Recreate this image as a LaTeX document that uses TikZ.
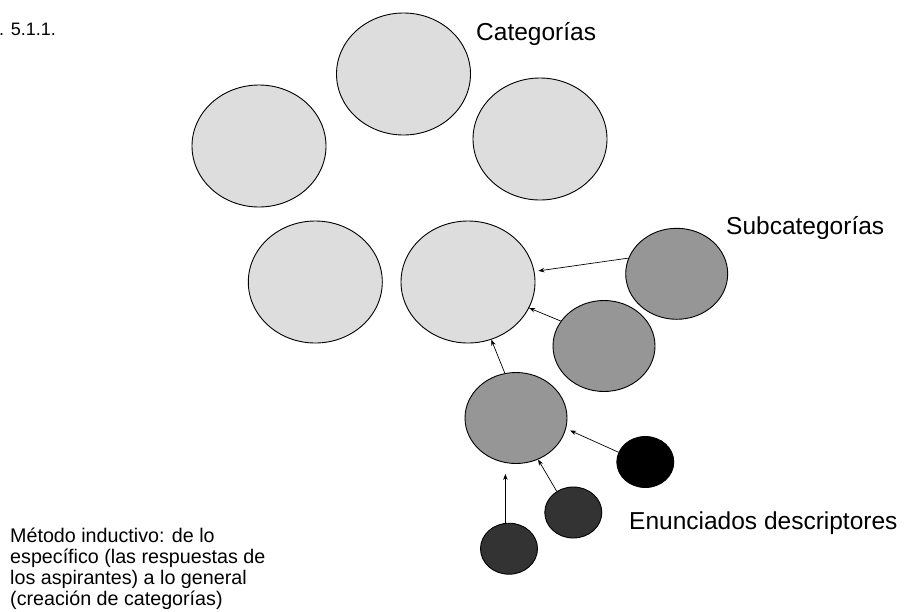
\documentclass[tikz,border=0pt]{standalone}
\usepackage{fontspec}
\setmainfont{Liberation Sans}
\usetikzlibrary{arrows.meta,calc,shapes.geometric}
\definecolor{miLight}{HTML}{DDDDDD}
\definecolor{miMid}{HTML}{969696}
\definecolor{miDark}{HTML}{333333}
\definecolor{miInk}{HTML}{000000}
\newcommand{\MIType}{\fontsize{19.7}{21}\selectfont}
\newcommand{\MIHead}{\fontsize{24.5}{28}\selectfont}
\tikzset{mi/base/.style={x=1pt,y=1pt,line cap=butt,line join=miter,
  every node/.style={font=\MIType,inner sep=0pt,text=miInk}},
  mi/arrow/.style={-{Stealth[length=6pt,width=4.5pt]},draw=miInk,line width=.7pt},
  mi/blob/.style={ellipse,draw=miInk,line width=.9pt,inner sep=0pt},
  mi/cat/.style={mi/blob,fill=miLight,minimum width=134pt,minimum height=122pt},
  mi/sub/.style={mi/blob,fill=miMid,minimum width=102pt,minimum height=91pt},
  mi/leaf/.style={mi/blob,minimum width=57pt,minimum height=51pt}}

\begin{document}
\begin{tikzpicture}[mi/base,y=-1pt]
  \useasboundingbox (0,0) rectangle (909,611);
  \foreach \x/\y/\name in {403.5/74/cat1,259/146/cat2,540/139/cat3,
    315.3/282/cat4,468/282/cat5}{
    \node[mi/cat] (\name) at (\x,\y) {};}
  \foreach \x/\y/\name in {676.7/273.8/sub1,604/346/sub2,516/418/sub3}{
    \node[mi/sub] (\name) at (\x,\y) {};}
  \foreach \x/\y/\name/\hue in {645.3/462/stm1/miInk,573.3/512.5/stm2/miDark,
    509/548.7/stm3/miDark}{
    \node[mi/leaf,fill=\hue] (\name) at (\x,\y) {};}
  \draw[mi/arrow,shorten >=4pt] (sub1.162) -- (cat5.9);
  \draw[mi/arrow] (sub2.150) -- (cat5.-23);
  \draw[mi/arrow] (sub3.104) -- (cat5.-68);
  \draw[mi/arrow,shorten >=4.5pt] (stm1.160) -- (sub3.-12);
  \draw[mi/arrow] (stm2.128) -- (sub3.-62);
  \draw[mi/arrow,shorten >=10pt] (stm3.98) -- (stm3.98 |- sub3.south);
  \node[anchor=base west,font=\fontsize{18}{21}\selectfont] (fig) at (-1,35) {. 5.1.1.};
  \node[anchor=base west,font=\MIHead] (catlbl) at (476,40.7) {Categorías};
  \node[anchor=base west,font=\MIHead] (sublbl) at (726,234) {Subcategorías};
  \node[anchor=base west,font=\MIHead] (stmlbl) at (629,529) {Enunciados descriptores};
  \node[anchor=base west,align=left] (note) at (10,605) {Método inductivo: de lo\\
    específico (las respuestas de\\los aspirantes) a lo general\\(creación de categorías)};
\end{tikzpicture}
\end{document}
